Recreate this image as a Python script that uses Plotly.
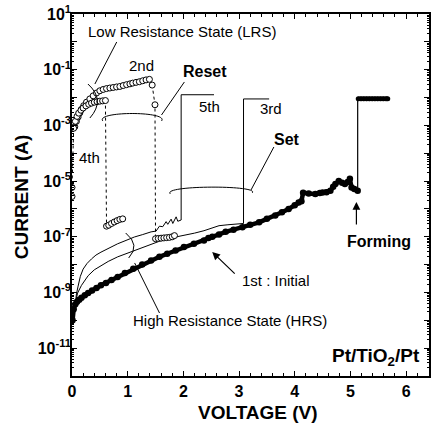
import plotly.graph_objects as go

# ---------------- data (voltage in V, current in A) ----------------
# 1st sweep : initial (virgin) state up to forming
init_v = [0.01, 0.03, 0.06, 0.09, 0.13, 0.17, 0.23, 0.29, 0.36, 0.44, 0.52, 0.61,
          0.71, 0.82, 0.95, 1.10, 1.26, 1.42, 1.57, 1.71, 1.86, 2.01, 2.19, 2.37,
          2.45, 2.52, 2.64, 2.76, 2.90, 3.06, 3.20, 3.36, 3.50, 3.65, 3.77, 3.89,
          4.00, 4.07, 4.12, 4.15, 4.25, 4.37, 4.45, 4.50, 4.57, 4.64, 4.69, 4.73,
          4.79, 4.85, 4.90, 4.95, 4.99, 5.02, 5.07, 5.13]
init_i = [1.0e-10, 2.5e-10, 3.8e-10, 4.6e-10, 5.5e-10, 6.5e-10, 7.9e-10, 9.5e-10,
          1.17e-9, 1.45e-9, 1.8e-9, 2.2e-9, 2.8e-9, 3.6e-9, 5.0e-9, 7.1e-9, 1.0e-8,
          1.4e-8, 1.9e-8, 2.45e-8, 3.2e-8, 4.3e-8, 5.6e-8, 7.4e-8, 9.0e-8, 1.0e-7,
          1.2e-7, 1.5e-7, 1.8e-7, 2.2e-7, 2.7e-7, 3.3e-7, 4.4e-7, 5.8e-7, 7.6e-7,
          1.0e-6, 1.35e-6, 1.7e-6, 1.9e-6, 3.8e-6, 3.6e-6, 3.4e-6, 3.7e-6, 3.9e-6,
          4.0e-6, 4.5e-6, 6.3e-6, 7.8e-6, 1.0e-5, 8.7e-6, 7.8e-6, 9.3e-6, 1.2e-5,
          5.9e-6, 5.2e-6, 4.5e-6]
forming_v = [5.13, 5.13]
forming_i = [4.5e-6, 9.0e-3]
comp_v = [5.14, 5.19, 5.24, 5.29, 5.34, 5.39, 5.44, 5.49, 5.54, 5.59, 5.64, 5.67]
comp_i = [9.0e-3] * len(comp_v)

# 2nd sweep : LRS, reset at ~1.45 V, then HRS
lrs2_v = [0.05, 0.08, 0.11, 0.14, 0.17, 0.21, 0.26, 0.32, 0.38, 0.44, 0.50, 0.56,
          0.62, 0.68, 0.74, 0.80, 0.86, 0.92, 0.98, 1.04, 1.09, 1.15, 1.21, 1.27,
          1.33, 1.39, 1.44, 1.49,
          1.50, 1.55, 1.60, 1.65, 1.70, 1.75, 1.80, 1.84]
lrs2_i = [8.9e-4, 1.4e-3, 2.0e-3, 2.8e-3, 3.8e-3, 5.1e-3, 6.8e-3, 8.9e-3, 1.15e-2,
          1.45e-2, 1.75e-2, 1.95e-2, 2.1e-2, 2.2e-2, 2.3e-2, 2.4e-2, 2.5e-2, 2.7e-2,
          2.9e-2, 3.1e-2, 3.3e-2, 3.5e-2, 3.7e-2, 4.0e-2, 4.3e-2, 4.5e-2, 2.8e-2,
          5.5e-3,
          8.5e-8, 8.7e-8, 8.9e-8, 9.1e-8, 9.3e-8, 9.5e-8, 1.0e-7, 1.1e-7]

# 3rd sweep : HRS, set at ~3.1 V
hrs3_v = [0.02, 0.05, 0.10, 0.17, 0.23, 0.29, 0.40, 0.52, 0.65, 0.82, 1.00, 1.12,
          1.27, 1.42, 1.57, 1.71, 1.86, 2.01, 2.20, 2.37, 2.50, 2.64, 2.80, 2.94,
          3.08, 3.08, 3.54]
hrs3_i = [1.8e-10, 3.5e-10, 9.5e-10, 1.8e-9, 2.8e-9, 4.0e-9, 6.5e-9, 9.3e-9, 1.3e-8,
          1.9e-8, 2.6e-8, 3.2e-8, 4.3e-8, 5.6e-8, 6.9e-8, 8.5e-8, 9.8e-8, 1.1e-7,
          1.35e-7, 1.65e-7, 2.0e-7, 2.5e-7, 2.7e-7, 2.9e-7, 3.0e-7, 8.9e-3, 8.9e-3]

# 4th sweep : LRS, reset at ~0.6 V, then HRS
lrs4_v = [0.00, 0.00, 0.03, 0.06, 0.09, 0.12, 0.16, 0.20, 0.25, 0.30, 0.35, 0.40,
          0.45, 0.50, 0.55, 0.60,
          0.62, 0.66, 0.71, 0.76, 0.81, 0.86, 0.91]
lrs4_i = [2.8e-6, 5.9e-6, 7.9e-4, 1.4e-3, 2.1e-3, 2.75e-3, 3.5e-3, 4.2e-3, 5.0e-3,
          5.75e-3, 6.3e-3, 6.8e-3, 7.1e-3, 7.4e-3, 7.6e-3, 7.8e-3,
          2.4e-7, 2.6e-7, 3.0e-7, 3.4e-7, 3.8e-7, 4.2e-7, 4.4e-7]

# 5th sweep : HRS, set at ~2 V
hrs5_v = [0.03, 0.05, 0.08, 0.11, 0.15, 0.20, 0.27, 0.35, 0.43, 0.52, 0.67, 0.82,
          0.97, 1.12, 1.27, 1.42, 1.51, 1.57, 1.63, 1.69, 1.72, 1.78, 1.81, 1.87,
          1.90, 1.96, 1.96, 2.55]
hrs5_i = [1.26e-10, 3.2e-10, 8.9e-10, 1.7e-9, 3.8e-9, 6.9e-9, 1.1e-8, 1.6e-8, 2.2e-8,
          2.8e-8, 4.1e-8, 5.6e-8, 7.4e-8, 9.8e-8, 1.2e-7, 1.5e-7, 1.6e-7, 2.4e-7,
          2.3e-7, 3.5e-7, 2.8e-7, 4.3e-7, 3.0e-7, 5.2e-7, 3.6e-7, 4.0e-7, 1.26e-2,
          1.26e-2]

x_ticks = [0, 1, 2, 3, 4, 5, 6]
y_exponents = list(range(-12, 2))

# ---------------- figure ----------------
W, H = 434, 426
ML, MR, MT, MB = 72, 3, 14, 50
PW, PH = W - ML - MR, H - MT - MB
FONT = "Liberation Sans, Arial, sans-serif"


def P(px, py):
    """pixel position -> paper coordinates"""
    return (px - ML) / PW, (MT + PH - py) / PH


fig = go.Figure()

fig.add_trace(go.Scatter(x=hrs3_v, y=hrs3_i, mode="lines",
                         line=dict(color="black", width=1)))
fig.add_trace(go.Scatter(x=hrs5_v, y=hrs5_i, mode="lines",
                         line=dict(color="black", width=1)))
fig.add_trace(go.Scatter(x=init_v, y=init_i, mode="lines+markers",
                         line=dict(color="black", width=4.5),
                         marker=dict(color="black", size=6.5)))
fig.add_trace(go.Scatter(x=forming_v, y=forming_i, mode="lines",
                         line=dict(color="black", width=1.2)))
fig.add_trace(go.Scatter(x=comp_v, y=comp_i, mode="lines+markers",
                         line=dict(color="black", width=4.5),
                         marker=dict(color="black", size=5)))
for vv, ii in ((lrs2_v, lrs2_i), (lrs4_v, lrs4_i)):
    fig.add_trace(go.Scatter(x=vv, y=ii, mode="lines+markers",
                             line=dict(color="black", width=1, dash="dot"),
                             marker=dict(symbol="circle", size=6, color="white",
                                         line=dict(color="black", width=1))))

# brackets and pointer lines
def path(pts, cmd):
    s = ""
    for c, (px, py) in zip(cmd, pts):
        x, y = P(px, py)
        s += f"{c} {x:.4f},{y:.4f} "
    return s.strip()


shape_paths = [
    path([(88, 84), (106, 100), (90, 118)], ["M", "Q", ""]),
    path([(117, 42), (95, 84)], ["M", "L"]),
    path([(103, 121), (95, 111), (170, 111), (162, 121)], ["M", "C", "", ""]),
    path([(185, 82), (162, 115)], ["M", "L"]),
    path([(171, 194), (161, 185), (263, 185), (253, 193)], ["M", "C", "", ""]),
    path([(275, 147), (252, 190)], ["M", "L"]),
    path([(126, 233), (141, 245), (129, 258)], ["M", "Q", ""]),
    path([(135, 263), (160, 313)], ["M", "L"]),
]
for sp in shape_paths:
    fig.add_shape(type="path", path=sp, xref="paper", yref="paper",
                  line=dict(color="black", width=1))

annots = [
    ("Low Resistance State (LRS)", 183, 32, 15, "normal"),
    ("2nd", 142, 66, 15, "normal"),
    ("Reset", 206, 71, 16, "bold"),
    ("5th", 210, 107, 15, "normal"),
    ("3rd", 272, 108, 15, "normal"),
    ("Set", 288, 139, 16, "bold"),
    ("4th", 90, 157, 15, "normal"),
    ("Forming", 381, 242, 16, "bold"),
    ("1st : Initial", 277, 280, 15, "normal"),
    ("High Resistance State (HRS)", 231, 320, 15, "normal"),
    ("Pt/TiO<sub>2</sub>/Pt", 378, 357, 19, "bold"),
    ("VOLTAGE (V)", 259, 412, 19, "bold"),
]
for text, px, py, size, weight in annots:
    x, y = P(px, py)
    fig.add_annotation(x=x, y=y, xref="paper", yref="paper", text=text,
                       showarrow=False, xanchor="center", yanchor="middle",
                       font=dict(family=FONT, size=size, color="black", weight=weight))
x, y = P(21, 197)
fig.add_annotation(x=x, y=y, xref="paper", yref="paper", text="CURRENT (A)",
                   textangle=-90, showarrow=False, xanchor="center", yanchor="middle",
                   font=dict(family=FONT, size=19, color="black", weight="bold"))

# arrows
for (tx, ty), (sx, sy) in (((213, 252), (237, 275)), ((358, 202), (358, 226))):
    x, y = P(tx, ty)
    fig.add_annotation(x=x, y=y, xref="paper", yref="paper", text="",
                       showarrow=True, ax=sx - tx, ay=sy - ty, arrowhead=2,
                       arrowsize=1.3, arrowwidth=1.2, arrowcolor="black")

fig.update_xaxes(range=[0, PW / 56.0], tickvals=x_ticks,
                 ticktext=[str(t) for t in x_ticks],
                 ticks="inside", ticklen=5, tickwidth=1.2, tickcolor="black",
                 minor=dict(ticks="inside", dtick=0.2, ticklen=3, tickwidth=1,
                            tickcolor="black"),
                 showline=True, linecolor="black", linewidth=1.5, mirror="allticks",
                 showgrid=False, zeroline=False,
                 tickfont=dict(family=FONT, size=16, color="black", weight="bold"))
fig.update_yaxes(type="log", range=[-12, 1],
                 tickvals=[10.0 ** e for e in y_exponents],
                 ticktext=[f"10<sup>{e}</sup>" if e % 2 else "" for e in y_exponents],
                 ticks="inside", ticklen=5, tickwidth=1.2, tickcolor="black",
                 ticklabelstandoff=-4,
                 minor=dict(ticks="inside", ticklen=2.5, tickwidth=1, tickcolor="black",
                            tickvals=[m * 10.0 ** e for e in y_exponents[:-1]
                                      for m in range(2, 10)]),
                 showline=True, linecolor="black", linewidth=1.5, mirror="allticks",
                 showgrid=False, zeroline=False,
                 tickfont=dict(family=FONT, size=16, color="black", weight="bold"))

fig.update_layout(width=W, height=H, margin=dict(l=ML, r=MR, t=MT, b=MB),
                  showlegend=False, paper_bgcolor="white", plot_bgcolor="white")

fig.write_html("out.html")
